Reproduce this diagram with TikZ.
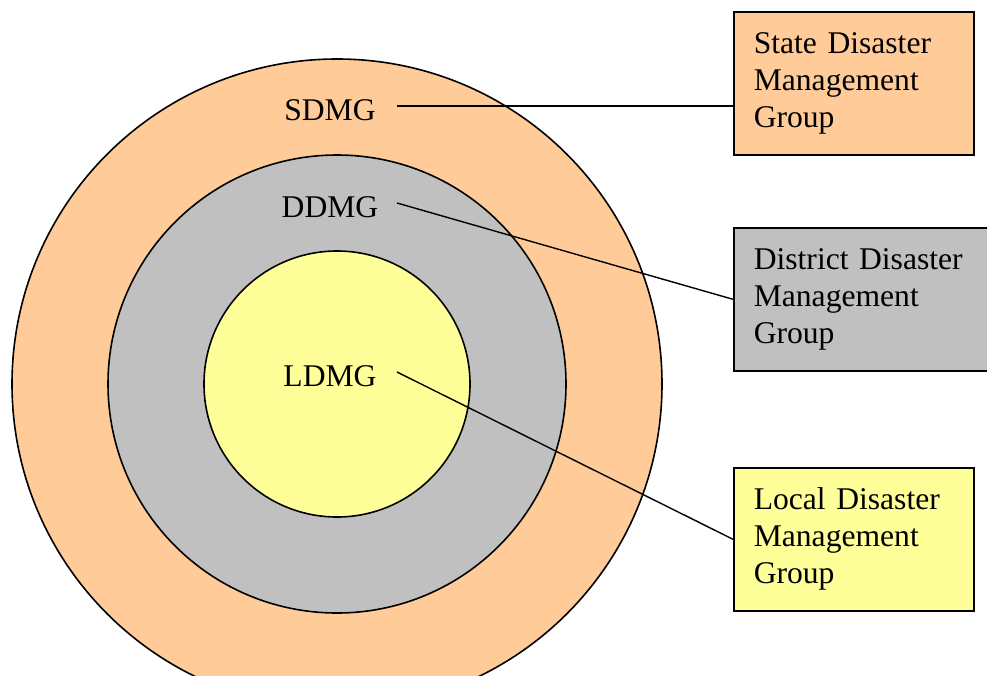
\documentclass[tikz,border=0pt]{standalone}
\usepackage{fontspec}
\setmainfont{Liberation Serif}
\usetikzlibrary{positioning}
\definecolor{statecol}{HTML}{FFCC99}
\definecolor{districtcol}{HTML}{C0C0C0}
\definecolor{localcol}{HTML}{FFFF99}
\tikzstyle{ring_style} = [circle, draw, line width=1.6pt, inner sep=0pt]
\tikzstyle{label_style} = [font=\fontsize{31.6}{37}\selectfont, inner sep=0pt]
\tikzstyle{box_style} = [rectangle, draw, line width=1.6pt, align=left, anchor=north west, inner xsep=20pt, inner ysep=0pt, minimum height=143pt, font=\fontsize{31.6}{37}\selectfont]
\tikzstyle{link_style} = [line width=1.4pt]

\begin{document}
\begin{tikzpicture}[x=1pt, y=-1pt]
	\useasboundingbox (0,0) rectangle (987,675);
	
	% circles
	\node[ring_style, fill=statecol, minimum size=650pt] (ring0) at (337,384) {};
	\node[ring_style, fill=districtcol, minimum size=458pt] (ring1) at (337,384) {};
	\node[ring_style, fill=localcol, minimum size=266pt] (ring2) at (337,384) {};
	
	% labels inside
	\node[label_style] (sdmg) at (330,110) {SDMG};
	\node[label_style] (ddmg) at (330,207) {DDMG};
	\node[label_style] (ldmg) at (330,376) {LDMG};
	\coordinate (sdmg_end) at (397,106);
	\coordinate (ddmg_end) at (397,203);
	\coordinate (ldmg_end) at (397,372);
	
	% boxes
	\node[box_style, fill=statecol, text width=200pt] (node0) at (733,11) {State Disaster\\Management\\Group};
	\node[box_style, fill=districtcol, text width=235pt] (node1) at (733,227) {District Disaster\\Management\\Group};
	\node[box_style, fill=localcol, text width=200pt] (node2) at (733,467) {Local Disaster\\Management\\Group};
	
	% lines
	\draw[link_style] (sdmg_end) -- (sdmg_end -| node0.west);
	\draw[link_style] (ddmg_end) -- (node1.west);
	\draw[link_style] (ldmg_end) -- (node2.west);
	
\end{tikzpicture}
\end{document}
